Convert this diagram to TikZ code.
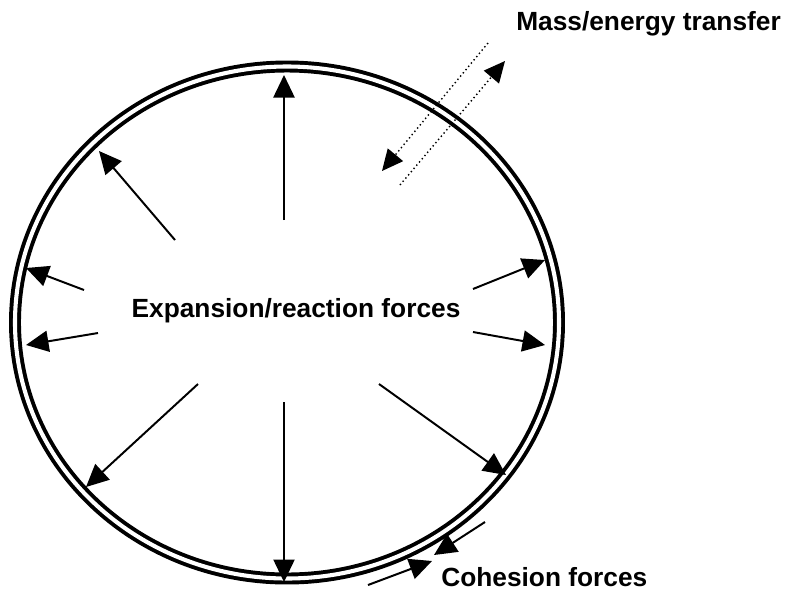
\documentclass[tikz,border=0pt]{standalone}
\usepackage{fontspec}
\setmainfont{Liberation Sans}
\usepackage{tikz}
\usetikzlibrary{arrows.meta}

\begin{document}
\begin{tikzpicture}[x=0.025cm,y=-0.025cm,
  font=\bfseries\fontsize{18.7}{22}\selectfont,
  wall/.style={line width=2.8pt,double,double distance=2.9pt},
  force/.style={line width=1.4pt,-{Triangle[length=16pt,width=15pt]}},
  transfer/.style={line width=1pt,dotted,-{Triangle[length=15pt,width=14pt]}}]
  \useasboundingbox (0,0) rectangle (796,601);
  % double wall
  \draw[wall] (287,322.5) ellipse [x radius=272, y radius=256];
  % expansion/reaction forces
  \draw[force] (284,220) -- (284,75);
  \draw[force] (175,240) -- (99,151);
  \draw[force] (84,290) -- (26,268);
  \draw[force] (98,333) -- (26,345);
  \draw[force] (198,384) -- (86,487);
  \draw[force] (284,402) -- (284,582);
  \draw[force] (379,384) -- (506,475);
  \draw[force] (473,332) -- (545,345);
  \draw[force] (473,289) -- (545,260);
  % mass/energy transfer
  \draw[transfer] (488,43) -- (382,171);
  \draw[transfer] (400,185) -- (505,61);
  % cohesion forces
  \draw[force] (485,522) -- (434,555);
  \draw[force] (368,585) -- (432,561);
  % labels
  \node[anchor=base] (expansion) at (296,317) {Expansion/reaction forces};
  \node[anchor=base west,inner sep=0pt] (mass) at (516,30) {Mass/energy transfer};
  \node[anchor=base west,inner sep=0pt] (cohesion) at (441,586) {Cohesion forces};
\end{tikzpicture}
\end{document}
